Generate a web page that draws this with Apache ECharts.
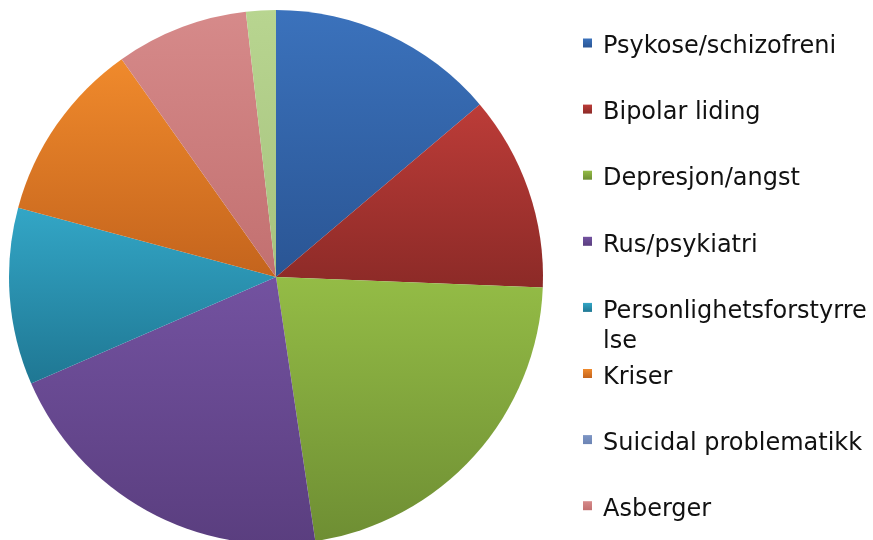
<!DOCTYPE html>
<html>
<head>
<meta charset="utf-8" />
<script src="https://cdn.jsdelivr.net/npm/echarts@6/dist/echarts.min.js"></script>
<title>Pie</title>
<style>
  html, body { margin: 0; padding: 0; background: #fff; }
</style>
</head>
<body>
<div id="main" style="width:873px;height:540px;"></div>
<script type="text/javascript">
// kategorier og verdier (prosent, lest av figuren)
var categories = ['Psykose/schizofreni', 'Bipolar liding', 'Depresjon/angst', 'Rus/psykiatri',
  'Personlighetsforstyrrelse', 'Kriser', 'Suicidal problematikk', 'Asberger', 'Annet'];
var values = [13.8, 11.8, 22.0, 20.8, 10.7, 11.0, 0, 8.0, 1.8];
var legendNames = categories.slice(0, 8);
var legendLines = [['Psykose/schizofreni'], ['Bipolar liding'], ['Depresjon/angst'], ['Rus/psykiatri'],
  ['Personlighetsforstyrre', 'lse'], ['Kriser'], ['Suicidal problematikk'], ['Asberger']];

// farger topp/bunn for hver sektor
var colorTop = ['#3B72BC', '#BC3C38', '#94BC46', '#7352A0', '#33A6C6', '#F08A2C', '#7D95C4', '#D68A8A', '#B8D590'];
var colorBottom = ['#2A5594', '#8C2A27', '#6E8E33', '#5A3E7F', '#1F7793', '#C4641D', '#6C84B4', '#C27070', '#A6C27E'];

var myChart = echarts.init(document.getElementById('main'));

var data = [];
for (var i = 0; i < categories.length; i++) {
  data.push({
    name: categories[i],
    value: values[i],
    itemStyle: {
      color: {
        type: 'linear', x: 0, y: 0, x2: 0, y2: 1,
        colorStops: [{ offset: 0, color: colorTop[i] }, { offset: 1, color: colorBottom[i] }]
      }
    }
  });
}

// en legend per element, slik at markørene står med lik avstand
// (en tom linje øverst skyver teksten litt ned i forhold til markøren)
var legends = [];
for (var j = 0; j < legendNames.length; j++) {
  var markerY = 43 + 66.1 * j;
  var lines = legendLines[j];
  var spacer = lines.length > 1 ? 38 : 8;
  var boxH = spacer + 30 * lines.length;
  var txt = '{s| }';
  for (var k = 0; k < lines.length; k++) txt += '\n{a|' + lines[k] + '}';
  legends.push({
    data: [legendNames[j]],
    orient: 'vertical',
    left: 583,
    top: markerY - boxH / 2,
    padding: 0,
    icon: 'rect',
    itemWidth: 9,
    itemHeight: 9,
    selectedMode: false,
    formatter: (function (t) { return function () { return t; }; })(txt),
    textStyle: {
      fontFamily: 'DejaVu Sans',
      fontSize: 24,
      color: '#111',
      padding: [0, 0, 0, 6],
      rich: {
        s: { fontSize: 1, lineHeight: spacer, height: spacer },
        a: { fontFamily: 'DejaVu Sans', fontSize: 24, lineHeight: 30, color: '#111' }
      }
    }
  });
}

var option = {
  animation: false,
  legend: legends,
  series: [
    {
      type: 'pie',
      center: [276, 277],
      radius: 267,
      startAngle: 90,
      clockwise: true,
      label: { show: false },
      labelLine: { show: false },
      emphasis: { disabled: true },
      data: data
    }
  ]
};
myChart.setOption(option);
</script>
</body>
</html>
